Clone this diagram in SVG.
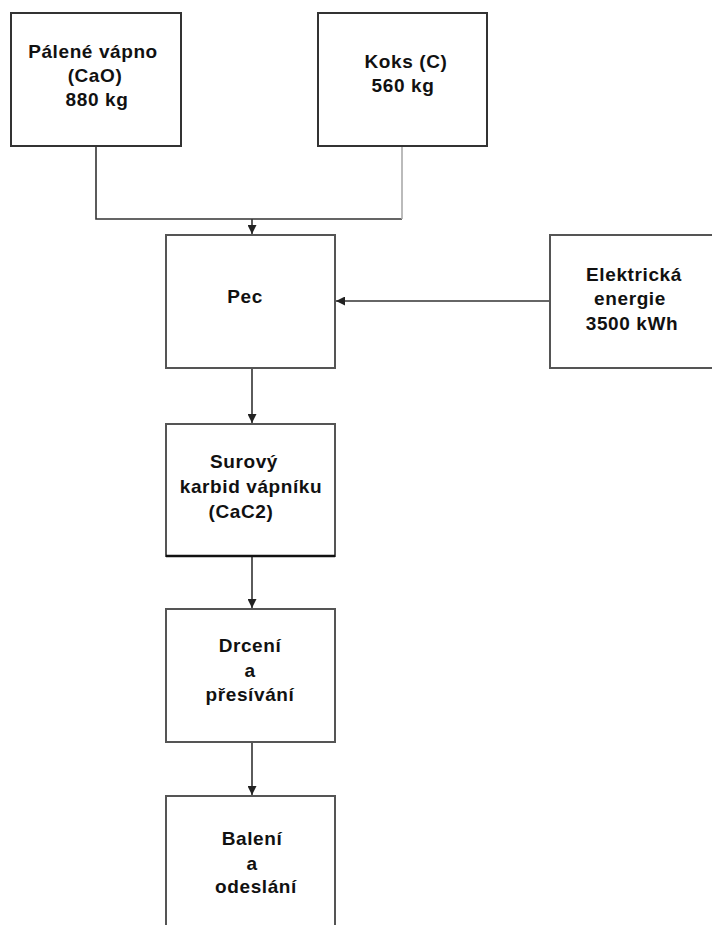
<svg xmlns="http://www.w3.org/2000/svg" width="712" height="925" viewBox="0 0 712 925">
<style>
.box{fill:#fff;stroke:#555;stroke-width:2}
.t{font-family:"Liberation Sans",Arial,sans-serif;font-weight:bold;font-size:19px;letter-spacing:0.6px;fill:#111;text-anchor:middle}
.c{fill:none;stroke:#333;stroke-width:1.6}
.cg{fill:none;stroke:#aaa;stroke-width:1.6}
</style>
<defs>
<marker id="ah" viewBox="0 0 10 10" refX="10" refY="5" markerWidth="9" markerHeight="9" markerUnits="userSpaceOnUse" orient="auto">
<path d="M0,0 L10,5 L0,10 z" fill="#222"/>
</marker>
</defs>
<rect width="712" height="925" fill="#fff"/>
<g id="connectors">
<path class="c" d="M96,146 V219 H402"/>
<path class="cg" d="M402,219 V147"/>
<path class="c" d="M252,219 V234" marker-end="url(#ah)"/>
<path class="c" d="M550,301 H336" marker-end="url(#ah)"/>
<path class="c" d="M252,368 V423" marker-end="url(#ah)"/>
<path class="c" d="M252,556 V608" marker-end="url(#ah)"/>
<path class="c" d="M252,742 V795" marker-end="url(#ah)"/>
</g>
<g id="palene-vapno">
<rect class="box" x="11" y="13" width="170" height="133" style="stroke:#333"/>
<text class="t" x="93" y="58">Pálené vápno</text>
<text class="t" x="95" y="82">(CaO)</text>
<text class="t" x="97" y="106">880 kg</text>
</g>
<g id="koks">
<rect class="box" x="318" y="13" width="169" height="133" style="stroke:#333"/>
<text class="t" x="406" y="68">Koks (C)</text>
<text class="t" x="403" y="92">560 kg</text>
</g>
<g id="pec">
<rect class="box" x="166" y="235" width="169" height="133"/>
<text class="t" x="245" y="303">Pec</text>
</g>
<g id="elektricka-energie">
<rect class="box" x="550" y="235" width="170" height="133"/>
<text class="t" x="634" y="281">Elektrická</text>
<text class="t" x="630" y="305">energie</text>
<text class="t" x="632" y="330">3500 kWh</text>
</g>
<g id="surovy-karbid">
<rect class="box" x="166" y="424" width="169" height="132"/>
<path d="M166,556 H335" stroke="#111" stroke-width="2.5"/>
<text class="t" x="244" y="468">Surový</text>
<text class="t" x="251" y="493">karbid vápníku</text>
<text class="t" x="241" y="518">(CaC2)</text>
</g>
<g id="drceni">
<rect class="box" x="166" y="609" width="169" height="133"/>
<text class="t" x="250" y="652">Drcení</text>
<text class="t" x="250" y="677">a</text>
<text class="t" x="250" y="701">přesívání</text>
</g>
<g id="baleni">
<rect class="box" x="166" y="796" width="169" height="140"/>
<text class="t" x="252" y="845">Balení</text>
<text class="t" x="252" y="870">a</text>
<text class="t" x="256" y="893">odeslání</text>
</g>
</svg>
